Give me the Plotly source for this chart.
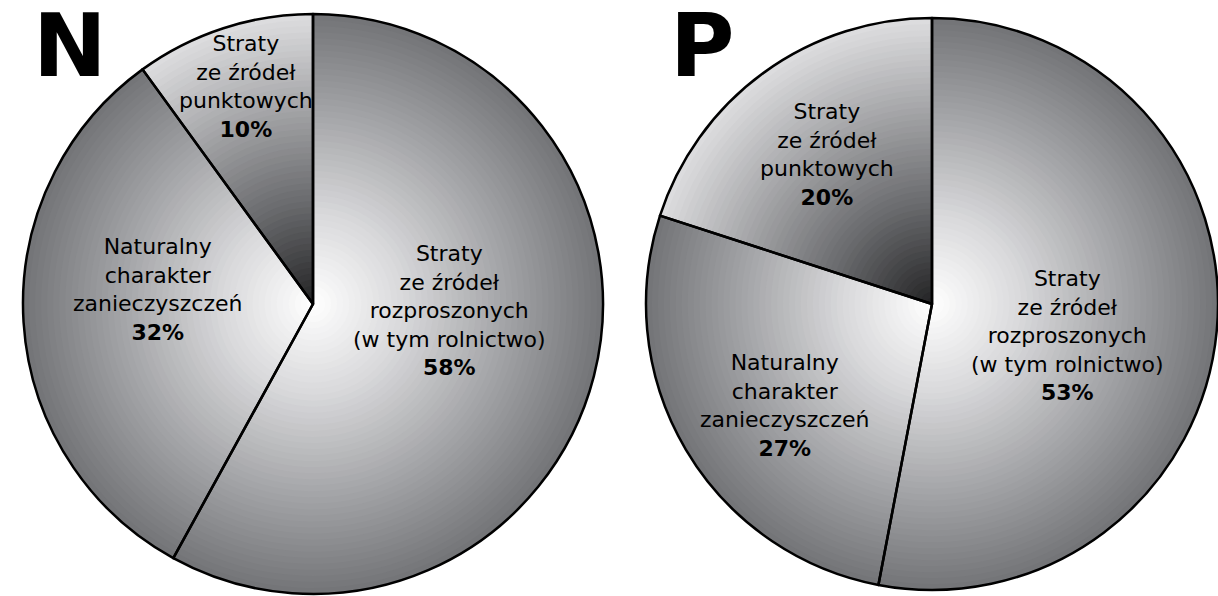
import numpy as np
import plotly.graph_objects as go

# --- data -------------------------------------------------------------------
categories = [
    "Straty ze źródeł rozproszonych (w tym rolnictwo)",
    "Naturalny charakter zanieczyszczeń",
    "Straty ze źródeł punktowych",
]
label_lines = [
    ["Straty", "ze źródeł", "rozproszonych", "(w tym rolnictwo)"],
    ["Naturalny", "charakter", "zanieczyszczeń"],
    ["Straty", "ze źródeł", "punktowych"],
]
share_N = [58, 32, 10]
share_P = [53, 27, 20]
panel_titles = ["N", "P"]

# --- canvas -----------------------------------------------------------------
W, H = 1218, 596
FONT = "DejaVu Sans"

# per-slice shading: "bright" = white at the centre fading to grey at the rim,
# "dark" = dark at the centre brightening towards the rim
shading = ["bright", "bright", "dark"]
BRIGHT_STOPS = ([0.0, 0.3, 0.65, 1.0],
                [(255, 255, 255), (218, 218, 220), (165, 166, 169), (114, 115, 119)])
DARK_STOPS = ([0.0, 0.35, 1.0],
              [(35, 35, 36), (105, 106, 109), (222, 222, 224)])
N_RINGS = 48


def shade(kind, t):
    pos, cols = BRIGHT_STOPS if kind == "bright" else DARK_STOPS
    cols = np.array(cols, dtype=float)
    rgb = [int(round(np.interp(t, pos, cols[:, c]))) for c in range(3)]
    return "rgb({},{},{})".format(*rgb)


def domain_for(cx, cy, r):
    return dict(x=[max(0.0, (cx - r) / W), min(1.0, (cx + r) / W)],
                y=[max(0.0, 1 - (cy + r) / H), min(1.0, 1 - (cy - r) / H)])


fig = go.Figure()

# pie geometry (pixel centre and radius) for each panel
panels = [
    dict(values=share_N, cx=313, cy=304, r=290),
    dict(values=share_P, cx=932, cy=304, r=286),
]

for p in panels:
    # concentric full pies, largest first, to build the radial gradient
    for k in range(N_RINGS):
        rk = p["r"] * (N_RINGS - k) / N_RINGS
        t = (N_RINGS - k - 0.5) / N_RINGS
        fig.add_trace(go.Pie(
            labels=categories, values=p["values"], sort=False,
            direction="clockwise", rotation=0,
            domain=domain_for(p["cx"], p["cy"], rk),
            marker=dict(colors=[shade(s, t) for s in shading],
                        line=dict(width=0)),
            textinfo="none", hoverinfo="skip", showlegend=False,
        ))
    # outline pie on top
    fig.add_trace(go.Pie(
        labels=categories, values=p["values"], sort=False,
        direction="clockwise", rotation=0,
        domain=domain_for(p["cx"], p["cy"], p["r"]),
        marker=dict(colors=["rgba(0,0,0,0)"] * len(categories),
                    line=dict(color="black", width=2.5)),
        textinfo="none", hoverinfo="label+percent", showlegend=False,
    ))

# slice labels: (panel index, slice index, centre x px, centre y px)
label_pos = [
    (0, 0, 449, 310), (0, 1, 157, 289), (0, 2, 246, 87),
    (1, 0, 1067, 335), (1, 1, 784, 405), (1, 2, 827, 155),
]
for pi, si, x, y in label_pos:
    val = panels[pi]["values"][si]
    text = "<br>".join(label_lines[si] + [f"<b>{val}%</b>"])
    fig.add_annotation(
        x=x / W, y=1 - y / H, xref="paper", yref="paper",
        text=text, showarrow=False, xanchor="center", yanchor="middle",
        align="center", font=dict(family=FONT, size=22, color="black"),
    )

# panel letters
for title, x in zip(panel_titles, [70, 702]):
    fig.add_annotation(
        x=x / W, y=1 - 45 / H, xref="paper", yref="paper",
        text=f"<b>{title}</b>", showarrow=False,
        xanchor="center", yanchor="middle",
        font=dict(family=FONT, size=88, color="black"),
    )

fig.update_layout(
    width=W, height=H, margin=dict(l=0, r=0, t=0, b=0),
    paper_bgcolor="white", plot_bgcolor="white",
)

fig.write_html("out.html")
